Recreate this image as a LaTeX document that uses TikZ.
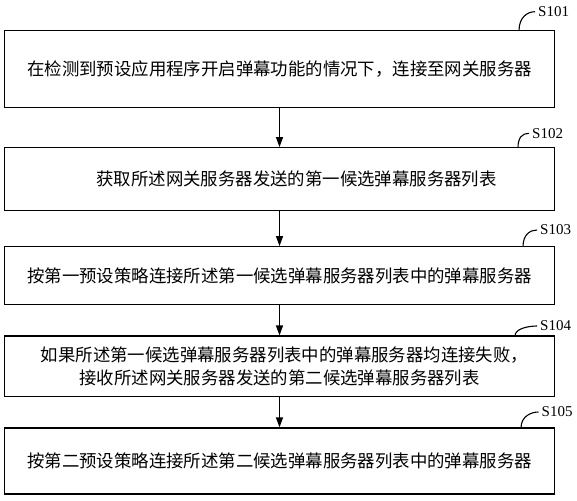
\documentclass[tikz,border=0pt]{standalone}
\usepackage{fontspec}
\setmainfont{Liberation Serif}
\newfontfamily\cjk{Noto Sans CJK SC}
\usetikzlibrary{arrows.meta,calc}
\begin{document}
\begin{tikzpicture}[x=1pt,y=-1pt,
  stepbox/.style={draw, line width=1.2pt, minimum width=550pt, inner sep=0pt,
    font=\cjk\fontsize{17.4}{22.3}\selectfont, align=center},
  flow/.style={line width=1.2pt, -{Triangle[length=10pt,width=7pt]}},
  hook/.style={line width=1.1pt},
  steplabel/.style={font=\fontsize{15}{15}\selectfont, anchor=west, inner sep=0pt}]
\useasboundingbox (0,0) rectangle (577,500);
\node[stepbox, minimum height=77pt] (b1) at (279.5,69.2) {在检测到预设应用程序开启弹幕功能的情况下，连接至网关服务器};
\node[stepbox, minimum height=63pt] (b2) at (279.5,179.2) {\hspace*{34pt}获取所述网关服务器发送的第一候选弹幕服务器列表};
\node[stepbox, minimum height=57.6pt] (b3) at (279.5,275.5) {按第一预设策略连接所述第一候选弹幕服务器列表中的弹幕服务器};
\node[stepbox, minimum height=60.7pt] (b4) at (279.5,366.4) {\hspace*{10pt}如果所述第一候选弹幕服务器列表中的弹幕服务器均连接失败，\\接收所述网关服务器发送的第二候选弹幕服务器列表};
\node[stepbox, minimum height=66pt] (b5) at (279.5,461) {按第二预设策略连接所述第二候选弹幕服务器列表中的弹幕服务器};

\draw[flow] (b1) -- (b2);
\draw[flow] (b2) -- (b3);
\draw[flow] (b3) -- (b4);
\draw[flow] (b4) -- (b5);

\node[steplabel] (l1) at (538,11.7) {S101};
\node[steplabel] (l2) at (532,133.3) {S102};
\node[steplabel] (l3) at (540,230) {S103};
\node[steplabel] (l4) at (540,326) {S104};
\node[steplabel] (l5) at (541.5,412) {S105};

\coordinate (h1) at (519,30.7);
\coordinate (h2) at (518,147.7);
\coordinate (h3) at (523,246.7);
\coordinate (h4) at (515,336);
\coordinate (h5) at (521,428);

\draw[hook] (h1) .. controls +(0,-14) and +(-7,0) .. ([xshift=-3pt]l1.west);
\draw[hook] (h2) .. controls +(0,-10) and +(-7,0) .. ([xshift=-3pt]l2.west);
\draw[hook] (h3) .. controls +(0,-12) and +(-7,0) .. ([xshift=-3pt]l3.west);
\draw[hook] (h4) .. controls +(0,-8) and +(-7,0) .. ([xshift=-3pt]l4.west);
\draw[hook] (h5) .. controls +(0,-12) and +(-7,0) .. ([xshift=-3pt]l5.west);
\end{tikzpicture}
\end{document}
